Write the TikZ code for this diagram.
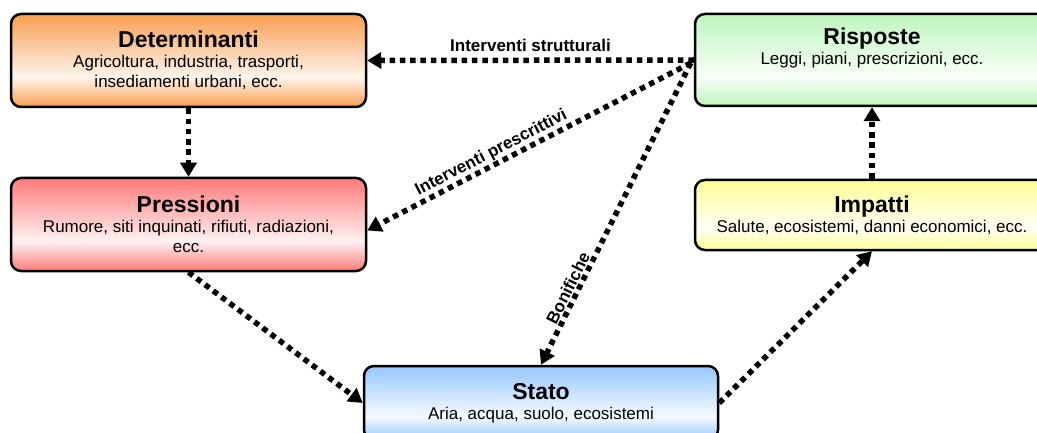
\documentclass[tikz,border=0pt]{standalone}
\usepackage{fontspec}
\setmainfont{Liberation Sans}
\usetikzlibrary{positioning,arrows.meta}
\definecolor{detcol}{RGB}{248,158,80}
\definecolor{precol}{RGB}{255,122,122}
\definecolor{stacol}{RGB}{150,200,255}
\definecolor{impcol}{RGB}{255,255,150}
\definecolor{riscol}{RGB}{190,245,190}
\colorlet{stagecol}{white}
\pgfdeclareverticalshading[stagecol]{stageshade}{100bp}{color(0bp)=(stagecol);
	color(25bp)=(stagecol); color(41bp)=(stagecol!10); color(75bp)=(stagecol);
	color(100bp)=(stagecol)}
\tikzset{
	dpsir/.style={x=1pt,y=1pt,font=\fontsize{17}{20}\selectfont},
	stage/.style={rectangle,draw,line width=2.5pt,rounded corners=10pt,align=center,
		minimum width=355pt,inner sep=0pt},
	shade stage/.style={/utils/exec={\colorlet{stagecol}{#1}},shading=stageshade},
	flow/.style={line width=5.5pt,dash pattern=on 5.5pt off 4.8pt,
		-{Triangle[width=16pt,length=14pt]}},
	flowlabel/.style={font=\fontsize{17}{20}\selectfont\bfseries,inner sep=1pt}
}
\newcommand{\stagetitle}[1]{{\fontsize{23}{26}\selectfont\bfseries #1}}

\begin{document}
\begin{tikzpicture}[dpsir]
	\useasboundingbox (0,0) rectangle (1037,-433);
	
	\node[stage,shade stage=detcol,minimum height=93pt] (det) at (188.5,-60.5)
		{\stagetitle{Determinanti}\\Agricoltura, industria, trasporti,\\insediamenti urbani, ecc.};
	\node[stage,shade stage=precol,minimum height=93pt] (pre) at (188.5,-224.5)
		{\stagetitle{Pressioni}\\Rumore, siti inquinati, rifiuti, radiazioni,\\ecc.};
	\node[stage,shade stage=stacol,minimum width=354pt,minimum height=74pt] (sta) at (541,-403)
		{\stagetitle{Stato}\\Aria, acqua, suolo, ecosistemi};
	\node[stage,shade stage=impcol,minimum width=354pt,minimum height=70pt] (imp) at (872,-215)
		{\stagetitle{Impatti}\\Salute, ecosistemi, danni economici, ecc.};
	\node[stage,shade stage=riscol,minimum width=354pt,minimum height=92pt] (ris) at (872,-60)
		{\stagetitle{Risposte}\\Leggi, piani, prescrizioni, ecc.\\[8pt]};
	\coordinate (src) at ([xshift=-3pt,yshift=-3pt]ris.west);
	
	\path[flow] (det) edge (pre);
	\path[flow] (pre.south) edge (sta.west);
	\path[flow] (sta.east) edge (imp.south);
	\path[flow] (imp) edge (ris);
	\path[flow] (ris.west) edge node[flowlabel,above=5pt] {Interventi strutturali} (det.east);
	\path[flow] (src) edge node[flowlabel,above,sloped,pos=0.6] {Interventi prescrittivi} ([yshift=-6pt]pre.east);
	\path[flow] (src) edge node[flowlabel,above,sloped,pos=0.76] {Bonifiche} (sta.north);
\end{tikzpicture}
\end{document}
